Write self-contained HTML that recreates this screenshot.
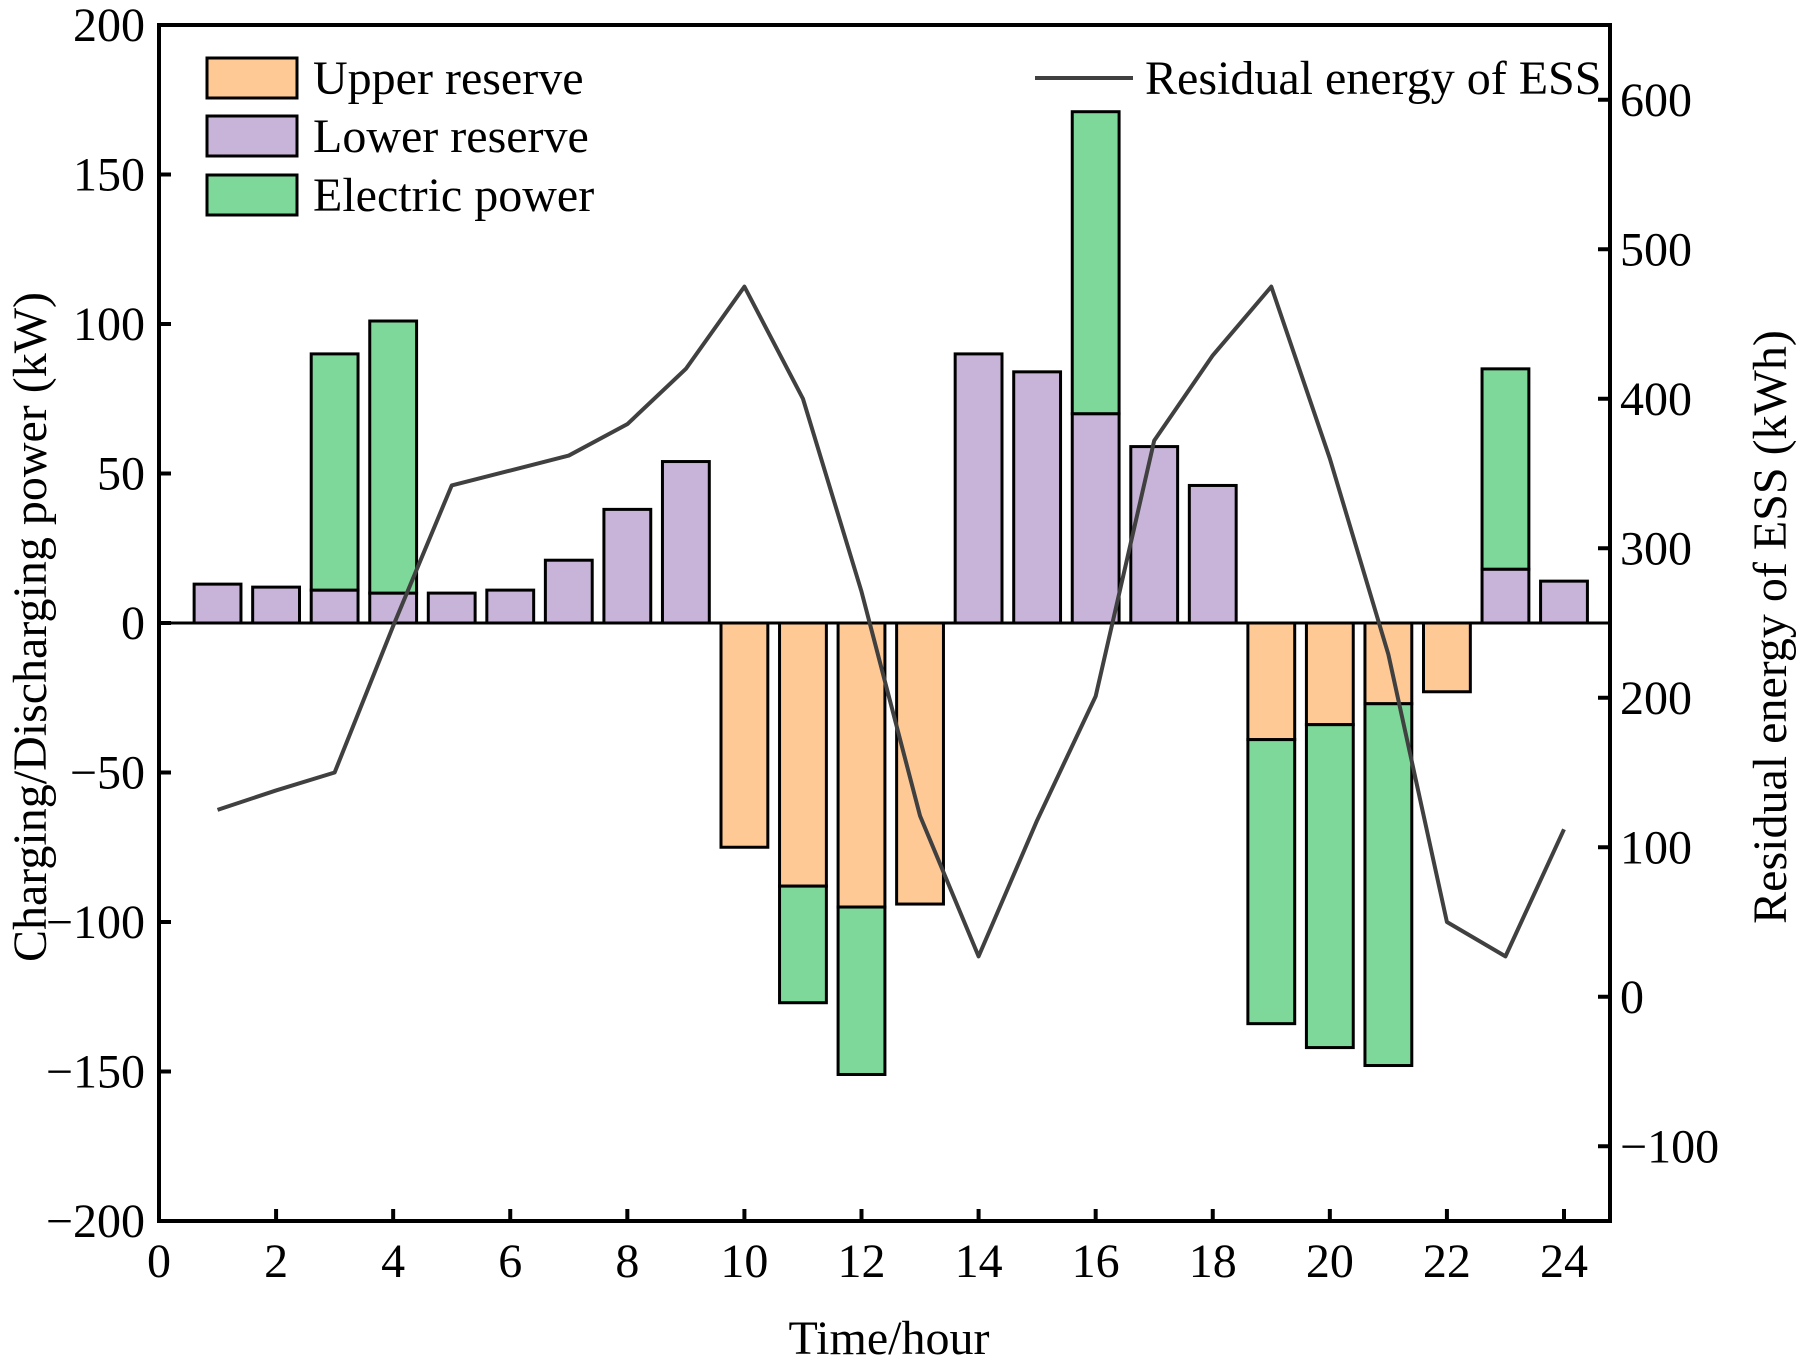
<!DOCTYPE html>
<html><head><meta charset="utf-8"><style>
html,body{margin:0;padding:0;background:#fff}
svg text{font-family:"Liberation Serif",serif;fill:#000}
</style></head><body>
<svg id="chart" width="1803" height="1363" viewBox="0 0 1803 1363" xmlns="http://www.w3.org/2000/svg"></svg>
<script>
const hours=[1,2,3,4,5,6,7,8,9,10,11,12,13,14,15,16,17,18,19,20,21,22,23,24];
const lowerReserve=[13,12,11,10,10,11,21,38,54,0,0,0,0,90,84,70,59,46,0,0,0,0,18,14];
const upperReserve=[0,0,0,0,0,0,0,0,0,-75,-88,-95,-94,0,0,0,0,0,-39,-34,-27,-23,0,0];
const electricPower=[0,0,79,91,0,0,0,0,0,0,-39,-56,0,0,0,101,0,0,-95,-108,-121,0,67,0];
const residualEnergy=[125,138,150,248,342,352,362,383,420,475,400,271,121,27,118,201,372,429,475,360,229,50,27,112];
const xTicks=[0,2,4,6,8,10,12,14,16,18,20,22,24];
const yLeftTicks=[-200,-150,-100,-50,0,50,100,150,200];
const yRightTicks=[-100,0,100,200,300,400,500,600];

const L=159,R=1610,T=25,B=1221;
const FS=48;
const X=v=>L+v*(1564-L)/24;
const Y=v=>T+(200-v)*(B-T)/400;
const Y2=v=>T+(650-v)*(B-T)/800;
const svg=document.getElementById('chart');
const NS='http://www.w3.org/2000/svg';
function mk(tag,attrs,parent){const e=document.createElementNS(NS,tag);for(const k in attrs)e.setAttribute(k,attrs[k]);(parent||svg).appendChild(e);return e;}
const bw=0.8*(1564-L)/24;
const gb=mk('g',{});


function bar(h,v0,v1,fill,name){
  if(v0===v1)return;
  const y0=Y(Math.max(v0,v1)),y1=Y(Math.min(v0,v1));
  const r=mk('rect',{x:X(h)-bw/2,y:y0,width:bw,height:y1-y0,fill:fill,stroke:'#000','stroke-width':3},gb);
  
  
}
hours.forEach((h,i)=>{
  bar(h,0,lowerReserve[i],'#C8B4D8','lower-reserve');
  bar(h,0,upperReserve[i],'#FEC994','upper-reserve');
  const e=electricPower[i];
  if(e>0)bar(h,lowerReserve[i],lowerReserve[i]+e,'#7ED89A','electric-power');
  if(e<0)bar(h,upperReserve[i],upperReserve[i]+e,'#7ED89A','electric-power');
});
const z=mk('line',{x1:L,x2:R,y1:Y(0),y2:Y(0),stroke:'#000','stroke-width':3});


const pl=mk('polyline',{points:hours.map((h,i)=>X(h)+','+Y2(residualEnergy[i])).join(' '),fill:'none',stroke:'#404040','stroke-width':4,'stroke-linejoin':'round'});


const fr=mk('rect',{x:L,y:T,width:R-L,height:B-T,fill:'none',stroke:'#000','stroke-width':4});


xTicks.forEach(t=>{
  const l=mk('line',{x1:X(t),x2:X(t),y1:B,y2:B-12,stroke:'#000','stroke-width':4});
  
  
  const tx=mk('text',{x:X(t),y:B+56,'text-anchor':'middle','font-size':FS});
  tx.textContent=t;
  
  
});
yLeftTicks.forEach(t=>{
  const l=mk('line',{x1:L,x2:L+12,y1:Y(t),y2:Y(t),stroke:'#000','stroke-width':4});
  
  
  const tx=mk('text',{x:L-14,y:Y(t)+16,'text-anchor':'end','font-size':FS});
  tx.textContent=t<0?'\u2212'+(-t):t;
  
  
});
yRightTicks.forEach(t=>{
  const l=mk('line',{x1:R,x2:R-12,y1:Y2(t),y2:Y2(t),stroke:'#000','stroke-width':4});
  
  
  const tx=mk('text',{x:R+10,y:Y2(t)+16,'text-anchor':'start','font-size':FS});
  tx.textContent=t<0?'\u2212'+(-t):t;
  
  
});
let t1=mk('text',{x:889,y:1354,'text-anchor':'middle','font-size':FS});t1.textContent='Time/hour';


let t2=mk('text',{x:0,y:0,'text-anchor':'middle','font-size':FS,transform:'translate(46,627) rotate(-90)'});t2.textContent='Charging/Discharging power (kW)';


let t3=mk('text',{x:0,y:0,'text-anchor':'middle','font-size':FS,transform:'translate(1786,627) rotate(-90)'});t3.textContent='Residual energy of ESS (kWh)';


const leg=[['Upper reserve','#FEC994',58],['Lower reserve','#C8B4D8',116],['Electric power','#7ED89A',175]];
leg.forEach(([n,c,y])=>{
  const r=mk('rect',{x:207,y:y,width:90,height:40,fill:c,stroke:'#000','stroke-width':3});
  
  
  const tx=mk('text',{x:313,y:y+36,'font-size':FS});tx.textContent=n;
  
  
});
const ll=mk('line',{x1:1035,x2:1133,y1:78,y2:78,stroke:'#404040','stroke-width':4});


const lt=mk('text',{x:1145,y:94,'font-size':FS});lt.textContent='Residual energy of ESS';


</script>
</body></html>
